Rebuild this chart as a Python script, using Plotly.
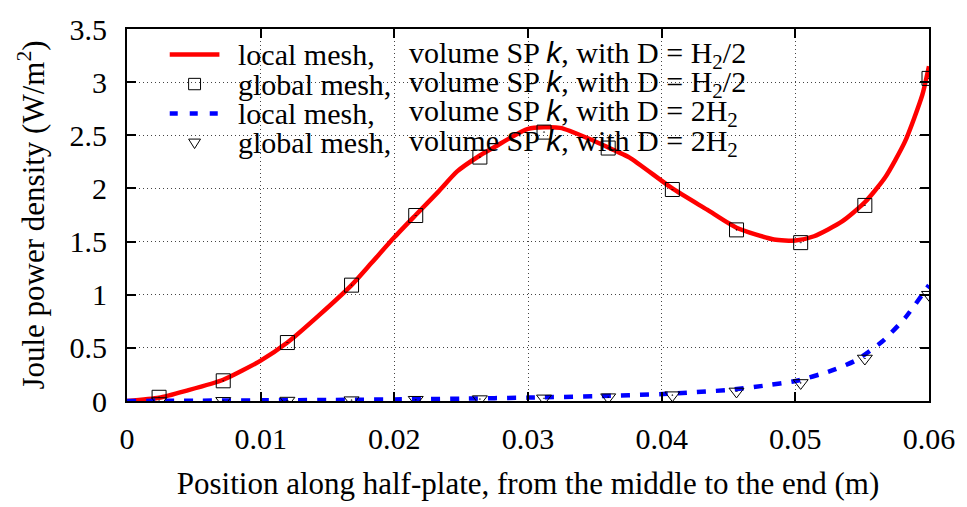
import plotly.graph_objects as go

# ---------------- data ----------------
# local mesh, volume SP k, D = H2/2 (continuous profile)
local_half_x = [0, 0.0024, 0.0044, 0.0072, 0.010, 0.012, 0.0144, 0.0168, 0.0183, 0.020,
                0.0216, 0.0233, 0.0247, 0.0264, 0.0275, 0.0300, 0.0324, 0.0347, 0.0366,
                0.0376, 0.0408, 0.0434, 0.0456, 0.0484, 0.0500, 0.0514, 0.0535, 0.0552,
                0.0567, 0.0582, 0.0595, 0.0600]
local_half_y = [0, 0.03, 0.095, 0.20, 0.38, 0.55, 0.81, 1.09, 1.30, 1.54,
                1.75, 1.97, 2.16, 2.31, 2.39, 2.56, 2.57, 2.46, 2.35,
                2.29, 2.00, 1.80, 1.63, 1.52, 1.51, 1.55, 1.69, 1.87,
                2.10, 2.44, 2.88, 3.15]

# global mesh sample positions (shared by both global series)
global_x = [0.0024, 0.0072, 0.0120, 0.0168, 0.0216, 0.0264, 0.0312,
            0.0360, 0.0408, 0.0456, 0.0504, 0.0552, 0.0600]
global_half_y = [0.035, 0.19, 0.55, 1.09, 1.745, 2.295, 2.53,
                 2.38, 1.99, 1.61, 1.49, 1.84, 3.035]

# local mesh, volume SP k, D = 2H2
local_two_x = [0, 0.005, 0.010, 0.015, 0.020, 0.025, 0.030, 0.035, 0.0401,
               0.0451, 0.0476, 0.0501, 0.0525, 0.0545, 0.0565, 0.0582, 0.0600]
local_two_y = [0, 0.003, 0.006, 0.010, 0.015, 0.022, 0.032, 0.045, 0.066,
               0.105, 0.143, 0.19, 0.277, 0.38, 0.56, 0.78, 1.09]

# global mesh, volume SP k, D = 2H2
global_two_y = [0.0, 0.002, 0.004, 0.008, 0.012, 0.018, 0.025,
                0.036, 0.055, 0.09, 0.17, 0.40, 1.00]

x_tickvals = [0, 0.01, 0.02, 0.03, 0.04, 0.05, 0.06]
x_ticktext = ["0", "0.01", "0.02", "0.03", "0.04", "0.05", "0.06"]
y_tickvals = [0, 0.5, 1, 1.5, 2, 2.5, 3, 3.5]
y_ticktext = ["0", "0.5", "1", "1.5", "2", "2.5", "3", "3.5"]

key_left = ["local mesh,", "global mesh,", "local mesh,", "global mesh,"]
k_it = '<span style="font-family:Liberation Sans"><i>k</i></span>'
key_right = [
    f"volume SP {k_it}, with D = H<sub>2</sub>/2",
    f"volume SP {k_it}, with D = H<sub>2</sub>/2",
    f"volume SP {k_it}, with D = 2H<sub>2</sub>",
    f"volume SP {k_it}, with D = 2H<sub>2</sub>",
]

# ---------------- layout geometry ----------------
W, H = 967, 507
ML, MR, MT, MB = 127, 33, 17, 98
PW, PH = W - ML - MR, H - MT - MB
FONT = "Liberation Serif, Times New Roman, serif"
FS_TICK = 30
FS_KEY = 30
FS_TITLE = 31


def px(xp):
    return (xp - ML) / PW


def py(yp):
    return (H - MB - yp) / PH


RED = "#ff0000"
BLUE = "#0000ff"

fig = go.Figure()
fig.add_trace(go.Scatter(x=local_half_x, y=local_half_y, mode="lines",
                         line=dict(color=RED, width=4.5, shape="spline", smoothing=0.6),
                         showlegend=False))
fig.add_trace(go.Scatter(x=global_x, y=global_half_y, mode="markers",
                         marker=dict(symbol="square-open-dot", size=14, color="black",
                                     line=dict(width=1, color="black")),
                         showlegend=False))
fig.add_trace(go.Scatter(x=local_two_x, y=local_two_y, mode="lines",
                         line=dict(color=BLUE, width=4.5, dash="9px,10px",
                                   shape="spline", smoothing=0.6),
                         showlegend=False))
fig.add_trace(go.Scatter(x=global_x, y=global_two_y, mode="markers",
                         marker=dict(symbol="triangle-down-open-dot", size=13, color="black",
                                     line=dict(width=1, color="black")),
                         showlegend=False))

shapes = []
annotations = []

# key background panel over the grid
shapes.append(dict(type="rect", xref="paper", yref="paper", layer="between",
                   x0=px(152), x1=px(500), y0=py(150), y1=py(MT),
                   fillcolor="white", line=dict(width=0)))

rows = [44, 75, 106, 137]
# key samples
shapes.append(dict(type="line", xref="paper", yref="paper",
                   x0=px(170), x1=px(220), y0=py(rows[0]), y1=py(rows[0]),
                   line=dict(color=RED, width=4.5)))
shapes.append(dict(type="rect", xref="paper", yref="paper",
                   x0=px(189), x1=px(201), y0=py(rows[1] + 6), y1=py(rows[1] - 6),
                   line=dict(color="black", width=1)))
shapes.append(dict(type="line", xref="paper", yref="paper",
                   x0=px(170), x1=px(222), y0=py(rows[2]), y1=py(rows[2]),
                   line=dict(color=BLUE, width=4.5, dash="8px,12px")))
tri = (f"M {px(189)},{py(rows[3] - 4)} L {px(201)},{py(rows[3] - 4)} "
       f"L {px(195)},{py(rows[3] + 6)} Z")
shapes.append(dict(type="path", xref="paper", yref="paper", path=tri,
                   line=dict(color="black", width=1)))

for i, r in enumerate(rows):
    annotations.append(dict(x=px(238), y=py(r), xref="paper", yref="paper",
                            text=key_left[i], showarrow=False, xanchor="left",
                            yanchor="middle", borderpad=0,
                            font=dict(family=FONT, size=FS_KEY, color="black")))
    annotations.append(dict(x=px(410), y=py(r), xref="paper", yref="paper",
                            text=key_right[i], showarrow=False, xanchor="left",
                            yanchor="middle", borderpad=0,
                            font=dict(family=FONT, size=FS_KEY, color="black")))

axis_common = dict(
    showline=True, linecolor="black", linewidth=2, mirror="allticks",
    ticks="inside", ticklen=9, tickwidth=1.5, tickcolor="black",
    showgrid=True, gridcolor="#444444", gridwidth=1, griddash="1px,3px",
    zeroline=False, tickfont=dict(family=FONT, size=FS_TICK, color="black"),
)

fig.update_layout(
    width=W, height=H,
    margin=dict(l=ML, r=MR, t=MT, b=MB),
    paper_bgcolor="white", plot_bgcolor="white",
    font=dict(family=FONT, size=FS_TICK, color="black"),
    xaxis=dict(range=[0, 0.06], tickvals=x_tickvals, ticktext=x_ticktext,
               ticklabelstandoff=10,
               title=dict(text="Position along half-plate, from the middle to the end (m)",
                          font=dict(family=FONT, size=FS_TITLE), standoff=18),
               **axis_common),
    yaxis=dict(range=[0, 3.5], tickvals=y_tickvals, ticktext=y_ticktext,
               ticklabelstandoff=12,
               title=dict(text="Joule power density (W/m<sup>2</sup>)",
                          font=dict(family=FONT, size=FS_TITLE), standoff=16),
               **axis_common),
    shapes=shapes,
    annotations=annotations,
    showlegend=False,
)

fig.write_html("out.html")
